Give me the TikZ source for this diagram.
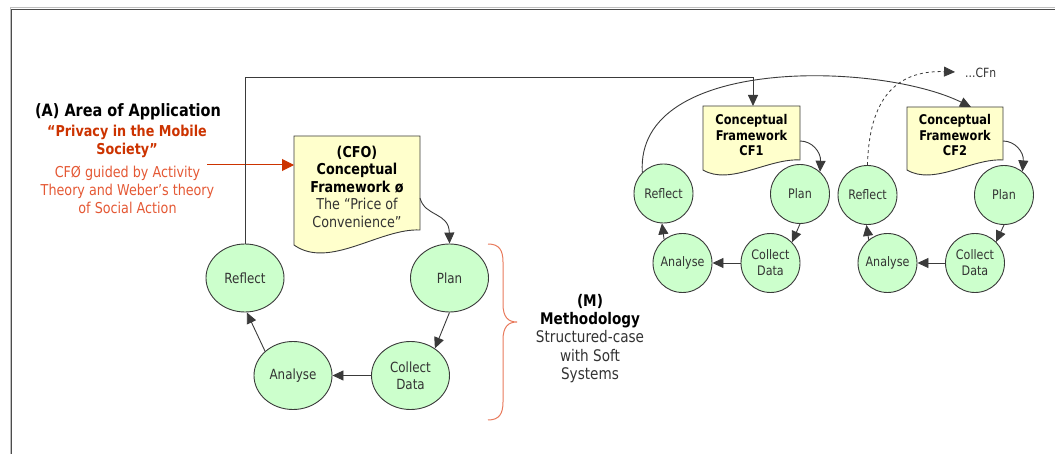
\documentclass[tikz,border=0pt]{standalone}
\usepackage{fontspec}
\setmainfont{DejaVu Sans}[FakeStretch=0.85]
\usetikzlibrary{arrows.meta,shapes.geometric}
\definecolor{lgreen}{HTML}{CCFFCC}
\definecolor{lyellow}{HTML}{FFFFCC}
\definecolor{edge}{HTML}{3A3A3A}
\definecolor{redd}{RGB}{204,51,0}
\definecolor{redl}{RGB}{228,88,52}
\definecolor{bracec}{RGB}{232,122,92}
\definecolor{txt}{HTML}{333333}
\tikzset{
  bigcirc/.style={ellipse, draw=edge, fill=lgreen, line width=0.9pt, minimum width=78pt, minimum height=68pt, inner sep=0pt, align=center, text=txt, font=\fontsize{14}{17}\selectfont},
  smallcirc/.style={circle, draw=edge, fill=lgreen, line width=0.9pt, minimum size=59pt, inner sep=0pt, align=center, text=txt, font=\fontsize{13.1}{16}\selectfont},
  docshape/.style={draw=edge, fill=lyellow, line width=0.9pt},
  conn/.style={draw=edge, line width=0.9pt, -{Triangle[length=11pt,width=10pt]}},
  dashconn/.style={draw=edge, line width=0.8pt, dashed, -{Triangle[length=11pt,width=10pt]}},
  redconn/.style={draw=redd, line width=1pt, -{Triangle[length=12pt,width=12pt]}},
  bigtext/.style={align=center, inner sep=0pt, font=\fontsize{15}{17.5}\selectfont},
  smalldoctext/.style={align=center, inner sep=0pt, font=\fontsize{13.4}{15.5}\selectfont\bfseries},
}
\begin{document}
\begin{tikzpicture}[x=1pt,y=-1pt]
\useasboundingbox (0,0) rectangle (1055,454);
% frame
\draw[black!25, line width=1pt] (10,454) -- (10,8) -- (1055,8);
\draw[black!70, line width=1.4pt] (11.5,454) -- (11.5,9.5) -- (1055,9.5);

% left text
\node[inner sep=0pt, font=\fontsize{17}{20}\selectfont\bfseries] (hA) at (128,112) {(A) Area of Application};
\node[bigtext, text=redd, font=\fontsize{15}{18}\selectfont\bfseries] (hP) at (127,141) {“Privacy in the Mobile\\Society”};
\node[bigtext, text=redl, font=\fontsize{15}{18}\selectfont] (hC) at (127.5,189.5) {CFØ guided by Activity\\Theory and Weber’s theory\\of Social Action};

% CF0 document
\draw[docshape] (294,136) -- (420,136) -- (420,230) .. controls (380,228) and (329,270) .. (294,245) -- cycle;
\node[bigtext, text=txt] (t0) at (357,186.5) {\textbf{\color{black}(CFO)}\\\textbf{\color{black}Conceptual}\\\textbf{\color{black}Framework ø}\\The “Price of\\Convenience”};
\coordinate (d0w) at (294,165);
\coordinate (d0e) at (420,198);
\coordinate (rs) at (207,165);

% main cycle
\node[bigcirc] (r0) at (245,278) {Reflect};
\node[bigcirc] (p0) at (449.5,278) {Plan};
\node[bigcirc] (a0) at (293,375.5) {Analyse};
\node[bigcirc] (c0) at (410.5,375.5) {Collect\\Data};

\draw[redconn] (rs) -- (d0w);
\draw[conn] (d0e) .. controls (425,217) and (449,212) .. (p0.north);
\draw[conn] (p0.south) -- (c0.48);
\draw[conn] (c0.west) -- (a0.east);
\draw[conn] (a0.139) -- (r0.273);

% brace
\draw[bracec, line width=1pt] (488,244) .. controls (499,244) and (503,250) .. (503,262) -- (503,304)
  .. controls (503,317) and (508,322) .. (517,322)
  .. controls (508,322) and (503,327) .. (503,340) -- (503,402)
  .. controls (503,414) and (499,420) .. (488,420);
\node[bigtext, font=\fontsize{16}{18.3}\selectfont, text=txt] (mt) at (590,338.5) {\textbf{\color{black}(M)}\\\textbf{\color{black}Methodology}\\Structured-case\\with Soft\\Systems};

% CF1 document
\draw[docshape] (703,106) -- (800,106) -- (800,160) .. controls (769,158) and (730,186) .. (703,170) -- cycle;
\node[smalldoctext] (t1) at (751.5,135.5) {Conceptual\\Framework\\CF1};
\coordinate (d1n) at (753,106);
\coordinate (d1e) at (800,141);
\coordinate (k1) at (753,77);

% CF2 document
\draw[docshape] (907,107) -- (1003,107) -- (1003,160) .. controls (972,158) and (934,186) .. (907,170) -- cycle;
\node[smalldoctext] (t2) at (955,135.5) {Conceptual\\Framework\\CF2};
\coordinate (d2n) at (971,107);
\coordinate (d2e) at (1003,141);
\coordinate (cfn) at (955,72);
\node[anchor=west, inner sep=0pt, text=txt, font=\fontsize{12.7}{15}\selectfont] (cfnt) at (965,73) {...CFn};

% cycle 1
\node[smallcirc] (r1) at (663.5,193.5) {Reflect};
\node[smallcirc] (p1) at (800,194) {Plan};
\node[smallcirc] (a1) at (682.5,263) {Analyse};
\node[smallcirc] (c1) at (770.5,263) {Collect\\Data};

% cycle 2
\node[smallcirc] (r2) at (867.5,195) {Reflect};
\node[smallcirc] (p2) at (1004,195) {Plan};
\node[smallcirc] (a2) at (887.5,263) {Analyse};
\node[smallcirc] (c2) at (975,263) {Collect\\Data};

% connectors
\draw[conn] (r0.north) |- (k1) -- (d1n);
\draw[conn] (r1.135) .. controls (635,55) and (880,62) .. (d2n);
\draw[dashconn] (r2.north) .. controls (869,100) and (895,70) .. (cfn);

\draw[conn] (d1e) .. controls (812,141) and (821,152) .. (p1.48);
\draw[conn] (p1.south) -- (c1.44);
\draw[conn] (c1.west) -- (a1.east);
\draw[conn] (a1.128) -- (r1.267);

\draw[conn] (d2e) .. controls (1015,141) and (1024,152) .. (p2.52);
\draw[conn] (p2.south) -- (c2.45);
\draw[conn] (c2.west) -- (a2.east);
\draw[conn] (a2.129) -- (r2.268);
\end{tikzpicture}
\end{document}
